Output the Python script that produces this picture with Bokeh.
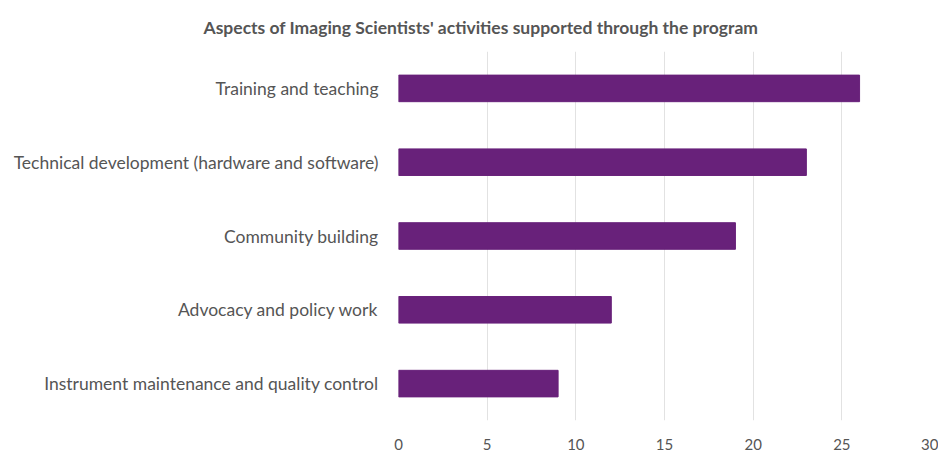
from bokeh.plotting import figure
from bokeh.models import FactorRange, Range1d, FixedTicker
from bokeh.embed import file_html
from bokeh.resources import INLINE

categories = [
    "Instrument maintenance and quality control",
    "Advocacy and policy work",
    "Community building",
    "Technical development (hardware and software)",
    "Training and teaching",
]
values = [9, 12, 19, 23, 26]
x_ticks = [0, 5, 10, 15, 20, 25, 30]
title_text = "Aspects of Imaging Scientists' activities supported through the program"

FONT = "Lato"
p = figure(
    width=938, height=452,
    y_range=FactorRange(*categories, range_padding=0.0),
    x_range=Range1d(0, 30),
    output_backend="svg", toolbar_location=None,
    title=title_text,
    min_border_left=398, min_border_right=8, min_border_top=50, min_border_bottom=32,
)
p.hbar(y=categories, right=values, left=0, height=0.36, color="#68217a")

p.title.align = "left"
p.title.offset = -195
p.title.text_font = FONT
p.title.text_font_size = "17.5px"
p.title.text_font_style = "bold"
p.title.text_color = "#555555"
p.title.standoff = 28

p.outline_line_color = None
p.ygrid.grid_line_color = None
p.xgrid.grid_line_color = "#e2e2e2"
p.xaxis.ticker = FixedTicker(ticks=x_ticks)

for ax in (p.xaxis, p.yaxis):
    ax.axis_line_color = None
    ax.major_tick_line_color = None
    ax.minor_tick_line_color = None
    ax.major_label_text_font = FONT
    ax.major_label_text_color = "#555555"
p.xaxis.major_label_text_font_size = "15px"
p.yaxis.major_label_text_font_size = "17.5px"
p.xaxis.major_label_standoff = 12
p.yaxis.major_label_standoff = 14

open("out.html", "w").write(file_html(p, INLINE))
